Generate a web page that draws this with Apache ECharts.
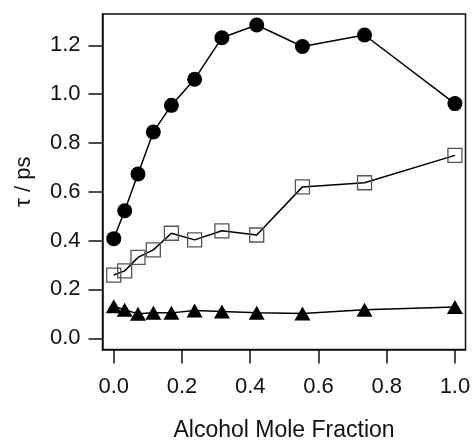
<!DOCTYPE html>
<html>
<head>
<meta charset="utf-8">
<script src="https://cdn.jsdelivr.net/npm/echarts@6/dist/echarts.min.js"></script>
<style>
  html, body { margin: 0; padding: 0; background: #fff; }
  #chart { width: 473px; height: 441px; }
</style>
</head>
<body>
<div id="chart"></div>
<script>
// Alcohol mole fraction for each measurement
const moleFraction = [0, 0.032, 0.071, 0.116, 0.169, 0.237, 0.317, 0.419, 0.553, 0.735, 1.0];

// Time constants (ps) for the three components
const tauSlow = [0.408, 0.522, 0.673, 0.845, 0.954, 1.061, 1.231, 1.283, 1.195, 1.242, 0.961];
const tauMid  = [0.259, 0.276, 0.331, 0.362, 0.430, 0.403, 0.440, 0.423, 0.620, 0.637, 0.749];
const tauFast = [0.131, 0.117, 0.100, 0.104, 0.104, 0.114, 0.110, 0.104, 0.101, 0.117, 0.128];

// Tick positions
const xTicks = [0, 0.2, 0.4, 0.6, 0.8, 1.0];
const yTicks = [0, 0.2, 0.4, 0.6, 0.8, 1.0, 1.2];

const pairs = ys => moleFraction.map((x, i) => [x, ys[i]]);

const FONT = '"Liberation Sans", Arial, sans-serif';
const chart = echarts.init(document.getElementById('chart'), null, { renderer: 'canvas' });

chart.setOption({
  animation: false,
  backgroundColor: '#ffffff',
  grid: {
    left: 102.5, right: 7.5, top: 14, bottom: 91.5,
    outerBoundsMode: 'none',
    show: true, borderColor: '#111', borderWidth: 1.5, backgroundColor: 'transparent'
  },
  xAxis: {
    type: 'value',
    min: -0.033, max: 1.031,
    name: 'Alcohol Mole Fraction',
    nameLocation: 'middle',
    nameGap: 70,
    nameTextStyle: { fontFamily: FONT, fontSize: 23, color: '#111' },
    axisLine: { show: true, onZero: false, lineStyle: { color: '#111', width: 1.5 } },
    axisTick: { show: true, length: 14, customValues: xTicks, lineStyle: { color: '#111', width: 1.5 } },
    axisLabel: {
      customValues: xTicks, margin: 26,
      fontFamily: FONT, fontSize: 22, color: '#111',
      formatter: v => v.toFixed(1)
    },
    splitLine: { show: false }
  },
  yAxis: {
    type: 'value',
    min: -0.046, max: 1.328,
    name: 'τ / ps',
    nameLocation: 'middle',
    nameGap: 68,
    nameRotate: 90,
    nameTextStyle: { fontFamily: FONT, fontSize: 22, color: '#111' },
    axisLine: { show: true, onZero: false, lineStyle: { color: '#111', width: 1.5 } },
    axisTick: { show: true, length: 14, customValues: yTicks, lineStyle: { color: '#111', width: 1.5 } },
    axisLabel: {
      customValues: yTicks, margin: 22,
      fontFamily: FONT, fontSize: 22, color: '#111',
      formatter: v => v.toFixed(1)
    },
    splitLine: { show: false }
  },
  series: [
    {
      name: 'slow', type: 'line', data: pairs(tauSlow),
      symbol: 'circle', symbolSize: 15, showAllSymbol: true,
      lineStyle: { color: '#000', width: 1.5 },
      itemStyle: { color: '#000', borderWidth: 0 }
    },
    {
      name: 'mid', type: 'line', data: pairs(tauMid),
      symbol: 'rect', symbolSize: 14, showAllSymbol: true,
      lineStyle: { color: '#000', width: 1.5 },
      itemStyle: { color: 'rgba(255,255,255,0)', borderColor: '#555', borderWidth: 1.3 }
    },
    {
      name: 'fast', type: 'line', data: pairs(tauFast),
      symbol: 'triangle', symbolSize: [16, 14], showAllSymbol: true,
      lineStyle: { color: '#000', width: 1.5 },
      itemStyle: { color: '#000', borderWidth: 0 }
    }
  ]
});
</script>
</body>
</html>
